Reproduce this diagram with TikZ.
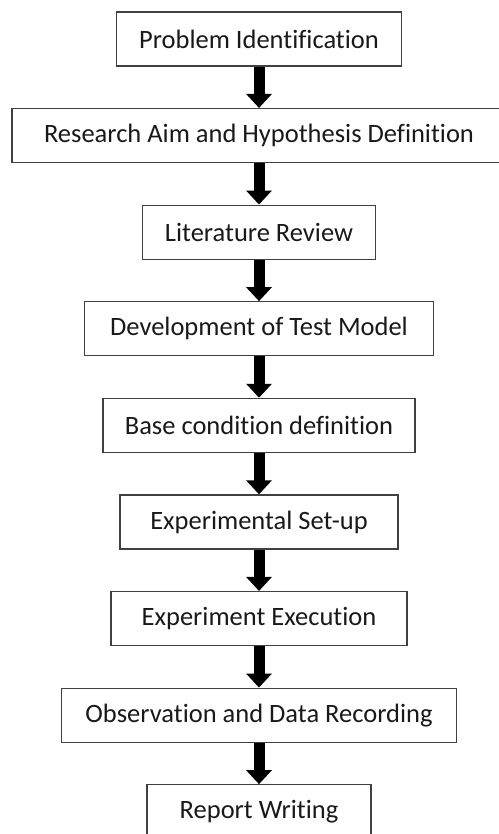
\documentclass[tikz,border=0pt]{standalone}
\usepackage{fontspec}
\setmainfont{Carlito}[Ligatures=NoCommon]
\usetikzlibrary{positioning,arrows.meta}
\begin{document}
\begin{tikzpicture}[
    x=1pt, y=1pt,
    node distance=41.3pt,
    stage/.style={draw=black!75, line width=1.3pt, rectangle, minimum height=54pt, inner sep=0pt, font=\fontsize{26.5}{30}\selectfont, text=black!90},
    flow/.style={draw, line width=11pt, -{Triangle[width=25pt, length=14pt]}}
]
\useasboundingbox (0,0) rectangle (498,-834);

\node[stage, minimum width=285pt] (prob) at (259,-39) {Problem Identification};
\node[stage, minimum width=494pt, below=of prob] (aim) {Research Aim and Hypothesis Definition};
\node[stage, minimum width=233pt, below=of aim] (lit) {Literature Review};
\node[stage, minimum width=349pt, below=of lit] (model) {Development of Test Model};
\node[stage, minimum width=312pt, below=of model] (base) {Base condition definition};
\node[stage, minimum width=278pt, below=of base] (setup) {Experimental Set-up};
\node[stage, minimum width=296pt, below=of setup] (exec) {Experiment Execution};
\node[stage, minimum width=395pt, below=of exec] (obs) {Observation and Data Recording};
\node[stage, minimum width=224pt, below=of obs] (report) {Report Writing};

\foreach \a/\b in {prob/aim, aim/lit, lit/model, model/base, base/setup, setup/exec, exec/obs, obs/report}
    \draw[flow] (\a.south) -- (\b.north);
\end{tikzpicture}
\end{document}
